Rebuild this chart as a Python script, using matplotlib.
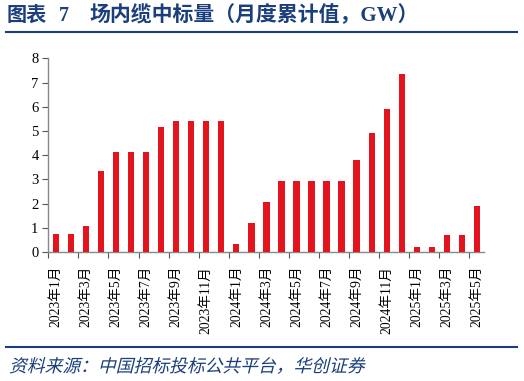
import matplotlib
matplotlib.use("Agg")
import matplotlib.pyplot as plt
from matplotlib.textpath import TextPath
from matplotlib.patches import PathPatch
from matplotlib.font_manager import FontProperties
from matplotlib.transforms import Affine2D
import numpy as np

plt.rcParams['font.family'] = ['Liberation Serif', 'Noto Sans CJK SC']

# monthly cumulative bid volume, GW
months = ["2023年1月", "2023年2月", "2023年3月", "2023年4月", "2023年5月", "2023年6月",
          "2023年7月", "2023年8月", "2023年9月", "2023年10月", "2023年11月", "2023年12月",
          "2024年1月", "2024年2月", "2024年3月", "2024年4月", "2024年5月", "2024年6月",
          "2024年7月", "2024年8月", "2024年9月", "2024年10月", "2024年11月", "2024年12月",
          "2025年1月", "2025年2月", "2025年3月", "2025年4月", "2025年5月"]
values = [0.76, 0.76, 1.06, 3.34, 4.14, 4.14, 4.14, 5.15, 5.41, 5.41, 5.41, 5.41,
          0.32, 1.20, 2.06, 2.95, 2.95, 2.95, 2.95, 2.95, 3.82, 4.91, 5.92, 7.36,
          0.19, 0.19, 0.70, 0.70, 1.90]
yticks = [0, 1, 2, 3, 4, 5, 6, 7, 8]

blue = '#1B3F7D'
red = '#E3141E'

fig = plt.figure(figsize=(5.24, 3.81), dpi=100)
W, H = 524, 381
ax = fig.add_axes([48.3 / W, 1 - 252 / H, (484.5 - 48.3) / W, (252 - 58.3) / H])

x = np.arange(len(values))
ax.bar(x, values, width=0.42, color=red, zorder=3)

ax.set_xlim(-0.5, len(values) - 0.5)
ax.set_ylim(0, 8)
ax.set_yticks(yticks)
ax.tick_params(axis='y', labelsize=10.5, length=4, width=0.8, color='#555555', pad=3)

# labels on odd months, ticks at every second boundary
ax.set_xticks(x[::2])
ax.set_xticklabels(months[::2], rotation=90, fontsize=9.8)
ax.tick_params(axis='x', length=0, pad=10)
ax.set_xticks(np.arange(-0.5, len(values), 2), minor=True)
ax.tick_params(axis='x', which='minor', length=4, width=0.8, color='#555555')

for s in ['top', 'right']:
    ax.spines[s].set_visible(False)
for s in ['left', 'bottom']:
    ax.spines[s].set_color('#888888')
    ax.spines[s].set_linewidth(1.0)

# title
tfam = ['Liberation Serif', 'Noto Sans CJK SC']
fig.text(7 / W, 1 - 16 / H, "图表", color=blue, fontsize=14.5, fontweight='bold',
         va='center', ha='left', family=tfam)
fig.text(59 / W, 1 - 16 / H, "7", color=blue, fontsize=14.5, fontweight='bold',
         va='center', ha='left', family=tfam)
fig.text(89 / W, 1 - 16 / H, "场内缆中标量（月度累计值，GW）", color=blue, fontsize=15,
         fontweight='bold', va='center', ha='left', family=tfam)
fig.add_artist(plt.Line2D([6 / W, 517 / W], [1 - 32 / H, 1 - 32 / H], color=blue, lw=1.5))
fig.add_artist(plt.Line2D([6 / W, 517 / W], [1 - 347 / H, 1 - 347 / H], color=blue, lw=1.5))

# source line, slanted by hand since the CJK font has no italic
fp = FontProperties(family='Noto Sans CJK SC')
tp = TextPath((0, 0), "资料来源：中国招标投标公共平台，华创证券", size=12.8, prop=fp)
tr = Affine2D().skew_deg(14, 0).scale(1 / 72).translate(9 / 100, (H - 372) / 100) + fig.dpi_scale_trans
fig.add_artist(PathPatch(tp, facecolor=blue, edgecolor='none', transform=tr))

fig.savefig("out.png", dpi=100)
